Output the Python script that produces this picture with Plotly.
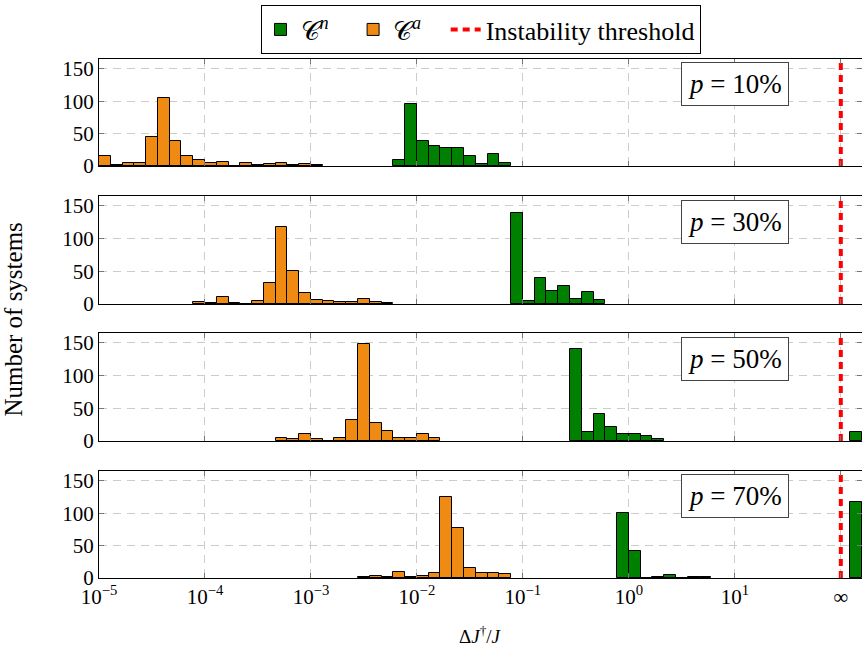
import plotly.graph_objects as go
from plotly.subplots import make_subplots

# Histogram bins are equal-width in log10 space: 9 bins per decade starting at 1e-5
LOG_MIN = -5.0
BINS_PER_DECADE = 9
BIN_W = 1.0 / BINS_PER_DECADE

panel_labels = ["10%", "30%", "50%", "70%"]

# counts per bin for C^a (orange) and C^n (green); *_start = index of first listed bin
ca_start = [0, 8, 15, 22]
ca_counts = [
    [16, 2, 4, 4, 44, 105, 39, 16, 10, 4, 6, 0, 4, 1, 3, 4, 2, 3, 1],
    [3, 1, 10, 1, 0, 4, 32, 117, 50, 17, 6, 4, 3, 3, 7, 3, 1],
    [5, 3, 11, 3, 0, 5, 32, 148, 28, 15, 5, 4, 11, 5],
    [2, 3, 2, 9, 2, 3, 8, 125, 77, 15, 8, 8, 6],
]
cn_start = [25, 35, 40, 44]
cn_counts = [
    [9, 95, 38, 31, 28, 27, 15, 3, 18, 5],
    [139, 5, 40, 20, 28, 7, 19, 6],
    [141, 13, 42, 21, 11, 11, 8, 3],
    [100, 42, 0, 1, 5, 0, 1, 1],
]
# systems with unbounded ratio (plotted in the bin right of the threshold)
cn_inf = [0, 0, 13, 117]
INF_BIN_LEFT = 2.088

threshold_log = 2.0           # position of the instability threshold / infinity tick
x_tick_vals = [-5, -4, -3, -2, -1, 0, 1, 2]
x_tick_text = ["10<sup>−5</sup>", "10<sup>−4</sup>", "10<sup>−3</sup>", "10<sup>−2</sup>",
               "10<sup>−1</sup>", "10<sup>0</sup>", "10<sup>1</sup>", "∞"]
y_tick_vals = [0, 50, 100, 150]
Y_MAX = 165
X_RANGE = [-5.0, 2.2]

GREEN = "#008000"
ORANGE = "#EF8A12"
FONT = "Liberation Serif, Times New Roman, serif"
NB = "\u00a0"

W, H = 862, 658
ML, MR, MT, MB = 99, 0, 59, 80
plot_h = H - MT - MB
# pixel rows (top, bottom) of each panel
panel_px = [(59, 166), (196, 304), (333, 441), (471, 578)]

fig = make_subplots(rows=4, cols=1, shared_xaxes=True)


def centers(start, n):
    return [LOG_MIN + (start + i + 0.5) * BIN_W for i in range(n)]


for r in range(4):
    row = r + 1
    gx = centers(cn_start[r], len(cn_counts[r]))
    gy = list(cn_counts[r])
    if cn_inf[r] > 0:
        gx.append(INF_BIN_LEFT + BIN_W / 2)
        gy.append(cn_inf[r])
    fig.add_trace(go.Bar(
        x=gx, y=gy, width=BIN_W,
        marker=dict(color=GREEN, line=dict(color="black", width=1)),
        name="𝒞<sup><i>n</i></sup>" + NB * 3, legendgroup="cn", showlegend=(r == 0),
    ), row=row, col=1)
    fig.add_trace(go.Bar(
        x=centers(ca_start[r], len(ca_counts[r])), y=ca_counts[r], width=BIN_W,
        marker=dict(color=ORANGE, line=dict(color="black", width=1)),
        name="𝒞<sup><i>a</i></sup>" + NB * 3, legendgroup="ca", showlegend=(r == 0),
    ), row=row, col=1)
    fig.add_trace(go.Scatter(
        x=[threshold_log, threshold_log], y=[0, Y_MAX], mode="lines",
        line=dict(color="#FF0000", width=4, dash="7px,5px"),
        name="Instability threshold", legendgroup="thr", showlegend=(r == 0),
    ), row=row, col=1)

    top, bot = panel_px[r]
    dom = [(H - MB - bot) / plot_h, (H - MB - top) / plot_h]
    yax = "yaxis" if r == 0 else f"yaxis{row}"
    xax = "xaxis" if r == 0 else f"xaxis{row}"
    fig.layout[yax].update(
        domain=dom, range=[0, Y_MAX], tickvals=y_tick_vals,
        showgrid=True, gridcolor="#cccccc", griddash="8px,6px", gridwidth=1,
        zeroline=False, showline=True, linecolor="black", linewidth=1,
        mirror="ticks", ticks="inside", ticklen=5, tickcolor="#777777",
        tickfont=dict(family=FONT, size=21, color="black"),
    )
    fig.layout[xax].update(
        range=X_RANGE, tickvals=x_tick_vals, ticktext=x_tick_text,
        showticklabels=(r == 3),
        showgrid=True, gridcolor="#cccccc", griddash="8px,6px", gridwidth=1,
        zeroline=False, showline=True, linecolor="black", linewidth=1,
        mirror="ticks", ticks="inside", ticklen=5, tickcolor="#777777",
        tickfont=dict(family=FONT, size=21, color="black"),
    )
    fig.add_annotation(
        x=1, y=126, xref=xax.replace("axis", ""), yref=yax.replace("axis", ""),
        text=f"<i>p</i> = {panel_labels[r]}", showarrow=False,
        font=dict(family=FONT, size=27, color="black"),
        bgcolor="white", bordercolor="#444444", borderwidth=1, borderpad=6,
    )

fig.add_annotation(
    x=-0.112, y=0.497, xref="paper", yref="paper", xanchor="center", yanchor="middle",
    text="Number of systems", textangle=-90, showarrow=False,
    font=dict(family=FONT, size=25, color="black"),
)
fig.add_annotation(
    x=0.5, y=-0.11, xref="paper", yref="paper", xanchor="center", yanchor="middle",
    text="Δ<i>J</i><sup>†</sup>/<i>J</i>", showarrow=False,
    font=dict(family=FONT, size=19, color="black"),
)

fig.update_layout(
    width=W, height=H, margin=dict(l=ML, r=MR, t=MT, b=MB),
    paper_bgcolor="white", plot_bgcolor="white", barmode="overlay", bargap=0,
    legend=dict(orientation="h", x=0.5, xanchor="center", y=1.104, yanchor="top",
                bordercolor="black", borderwidth=1, bgcolor="white",
                font=dict(family=FONT, size=26, color="black"),
                itemwidth=30, tracegroupgap=0),
)

fig.write_html("out.html")
